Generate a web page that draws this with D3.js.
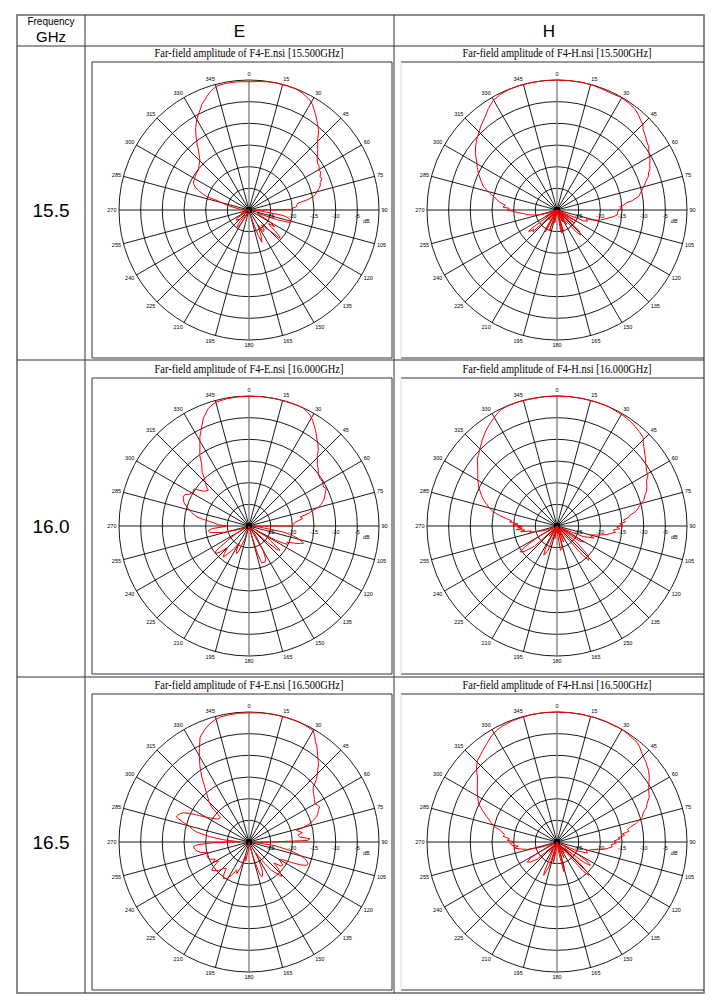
<!DOCTYPE html>
<html><head><meta charset="utf-8">
<script src="https://cdn.jsdelivr.net/npm/d3@7"></script>
<style>html,body{margin:0;padding:0;background:#fff}</style>
</head><body>
<svg id="c" width="721" height="1008"></svg>
<script>
// ---------- data ----------
const freqLabels = ["15.5", "16.0", "16.5"];
const freqTitles = ["15.500", "16.000", "16.500"];
const planes = ["E", "H"];
const angleTicks = d3.range(0, 360, 15);
const ringTicks = [-25, -20, -15, -10, -5];
const dbDomain = [-30, 0];

// [angle deg (clockwise from top), amplitude dB]
const e155 = [[0,-0.4],[4,-0.3],[8,-0.1],[12,0],[16,0],[21,0],[25,-0.4],[29,-1],[31,-1.6],[33,-2.4],[35,-3.2],[38,-4.4],[41,-5.5],[43,-6.6],[45,-7.6],[47,-8.3],[49,-9],[51,-9.6],[53,-10.3],[56,-10.9],[58,-10.9],[60,-11.4],[62,-11.3],[65,-11.9],[67,-11.7],[69,-12.4],[71,-12.6],[73,-13.1],[75,-13.8],[77,-14.3],[78,-14.8],[80,-16.2],[82,-18.6],[84,-18.9],[86,-19],[88,-20.2],[89.5,-20.3],[90.5,-29],[96,-27],[99,-22],[102,-20.5],[104,-20.2],[106,-19.9],[107.5,-20.6],[109,-23],[111,-28],[116,-27],[119,-24.5],[121,-24],[123,-22.9],[125,-24.5],[127,-23.8],[129,-22],[131,-20.6],[132.5,-20.3],[134,-22.5],[137,-24.5],[140,-25.5],[143,-24.2],[146.5,-24],[149,-26],[152,-25.2],[155,-23.5],[158,-22],[160,-23.5],[162,-27],[166,-29.5],[175,-30],[195,-30],[205,-28.5],[210,-26.5],[214,-25.2],[217,-25.5],[220,-28.5],[226,-27],[231,-26.2],[235,-26.5],[238,-29],[245,-28],[252,-29.5],[262,-30],[272,-29],[277,-27.5],[281,-25.5],[284,-24],[286,-23],[287.5,-19.8],[289,-18.8],[290.5,-17.9],[291.5,-17.4],[293,-16.5],[295.6,-15.8],[298,-15.6],[301.7,-15.4],[305,-15.2],[308.3,-15.1],[312,-14.5],[315.6,-13.8],[318,-12.8],[319.8,-11.9],[321.5,-10.8],[323.2,-9.8],[325,-8.6],[327,-7.4],[329.8,-6],[332,-5.1],[333.9,-4.3],[336,-3.3],[339.5,-2.1],[341.5,-1.4],[343.7,-0.8],[346,-0.4],[350,-0.3],[355,-0.3],[360,-0.4]];

const h155 = [[0,0],[5,0],[10,0],[15,0],[20,-0.2],[25,-0.3],[30,-0.1],[34,-0.3],[38,-0.6],[41,-1.2],[43,-1.7],[45,-2],[47,-2.8],[50,-3.4],[53,-4],[55.5,-4.3],[58,-5],[61.6,-5.6],[64,-6.2],[66,-6.5],[68,-7.2],[70,-7.6],[72,-8.4],[75,-9.3],[78,-10.2],[80.7,-10.9],[82,-12],[83,-12.5],[84,-13.8],[85.7,-14.6],[87,-15.5],[88,-15],[90,-15.8],[92,-16],[94.8,-16.1],[97,-17],[100,-18.5],[103,-19.7],[105,-21],[107,-23],[110,-22.5],[112,-23.3],[114,-28],[117,-30],[120,-24.7],[123,-29],[127,-25],[130,-29],[133,-23],[137,-22.1],[139,-23.5],[141,-29],[146,-26],[149,-30],[155,-27],[158,-30],[163,-24.8],[166,-28],[168,-24.5],[170,-25],[172,-30],[180,-30],[190,-27],[193,-30],[200,-25],[204,-29],[208,-24.3],[211,-24.8],[214,-30],[220,-27],[224,-29.5],[228,-22.5],[230,-23],[232.6,-21.8],[234,-22.5],[236,-29],[241,-27],[245,-30],[250,-28],[255,-25.5],[258,-24.5],[261,-23],[264,-22.3],[266,-21],[268,-20],[270,-18.5],[272,-19],[273,-17.5],[275.5,-18],[277,-17],[279,-16.2],[281.9,-15.1],[284,-14],[287.6,-12.2],[291,-11.2],[295,-10],[298,-9.2],[301.8,-8.1],[305,-7],[307.8,-6.2],[311,-5.4],[314.4,-4.7],[318,-3.8],[322.5,-2.8],[326,-1.7],[330,-0.7],[334,-0.3],[338,-0.1],[342,0],[345.3,0],[350,0],[355,0],[360,0]];

const e160 = [[0,-0.1],[5,0],[10,0],[13.7,0],[19.4,0],[24.5,0],[27,-0.4],[28.9,-0.8],[31,-1.5],[33,-2.4],[35,-3.2],[37.2,-4.2],[40,-5.3],[42.5,-6.3],[44,-7.3],[46.1,-8.1],[48,-8.8],[50,-9.2],[53,-9.9],[56,-10.3],[59,-10.2],[62.3,-10.6],[64,-10.2],[67,-10.9],[69,-11.3],[71,-11.8],[73,-12.5],[75,-13.5],[76.3,-14.7],[78,-15.9],[80,-18],[82,-17.5],[84,-18.6],[86,-19.5],[88,-19.8],[90,-20],[91,-29],[97,-27],[100,-22],[102,-20],[104,-18.5],[107.4,-16.8],[109,-17.5],[111,-19],[113,-20.5],[116,-20.3],[118,-23],[120,-28],[122,-25],[124,-24.1],[126,-23],[128,-20.9],[130,-21.5],[132,-25],[136,-29.5],[145,-27],[150,-23.5],[153,-21.5],[156,-20.9],[159,-21],[161,-21],[163,-23.5],[166,-29],[175,-30],[190,-30],[198,-27],[202,-24],[204,-23],[207,-23.5],[210,-25.5],[213,-24],[216,-22.6],[218,-21.5],[219.6,-20.7],[222,-21.5],[225,-23],[228,-21],[230.9,-19.9],[233,-20.5],[236,-24],[240,-27],[246,-29],[252,-27],[256,-24],[259,-22],[261,-20.8],[263.9,-20.6],[266,-21.5],[268,-24],[270,-25],[272,-23],[275,-22],[277,-20.5],[279.8,-17.8],[283,-16.5],[287,-15],[290,-14],[293.8,-13.4],[296,-13.5],[298,-14.4],[301.4,-14.9],[304,-14.7],[306,-16],[308,-17],[311.3,-17.5],[313,-16.5],[316,-15.4],[319,-13.5],[322.8,-11.9],[325,-10.2],[328.2,-8.5],[331,-6.6],[334.4,-4.7],[337,-3],[340.9,-1.3],[343,-0.8],[345.4,-0.4],[350,-0.2],[355,-0.1],[360,-0.1]];

const h160 = [[0,0],[5,0],[10,0],[14.5,0],[19,0],[23.3,0],[27,-0.2],[31,-0.3],[34.8,-0.5],[38,-0.8],[41,-1.1],[44.2,-1.5],[46,-2.3],[48,-3],[50.7,-3.8],[53,-4.4],[55,-5],[58.3,-5.7],[61,-6],[63,-6.8],[66.6,-7.4],[69,-7.9],[71,-8.6],[73.5,-9.1],[76,-10.3],[78.9,-11.2],[80,-11.8],[81.5,-13],[83,-13.3],[85,-14.6],[86.5,-14.2],[88,-15.5],[89,-14.8],[91,-16.2],[92.5,-15.5],[94,-17],[96,-16.4],[98.2,-17.6],[100,-18.5],[102,-20],[104,-21.5],[106,-22],[108,-21],[110,-22.5],[112,-23.5],[115,-29],[118,-26],[121,-22.8],[124,-24],[127,-29],[130,-24],[133,-20.5],[135,-19.6],[137.3,-19.2],[139,-22],[141,-28],[146,-30],[150,-26.5],[153,-29],[158,-26],[161,-30],[166,-25],[169,-24.5],[172,-24.3],[175,-28],[182,-30],[190,-27],[194,-30],[200,-24],[204.4,-22.6],[207,-24],[211,-29],[218,-27],[222,-30],[228,-23],[232,-20.5],[234.7,-19.6],[237,-21],[240,-25],[244,-29],[250,-27],[254,-25.5],[257,-23.5],[259,-24],[261,-21.5],[263,-22.5],[265,-20.5],[266.5,-22],[268.6,-20.8],[270,-22],[271.5,-19.8],[273,-21],[275,-19],[276.5,-19.5],[278.3,-18.3],[280,-16.8],[282.5,-15],[285,-13.8],[289.3,-12.1],[292,-11.2],[296.5,-9.8],[300,-8.9],[303,-8.2],[306.6,-7.2],[310,-6],[312,-5.6],[315.9,-4.6],[319,-3.7],[322.7,-2.7],[326,-1.9],[329.5,-1.2],[332,-0.6],[334.5,-0.2],[338,0],[342,0],[345.2,0],[350,-0.1],[355,0],[360,0]];

const e165 = [[0,-0.2],[5,-0.1],[10,0],[14.9,0],[19,0],[23.4,0],[27,-0.2],[30,-0.3],[32,-1.4],[33.5,-2.2],[35.5,-3],[38,-4.3],[41.5,-5.8],[44,-7.2],[46.2,-8.3],[48,-9.4],[49.5,-10.5],[51.5,-11.1],[54,-11.5],[57,-12],[59.8,-12.4],[62,-12],[63.5,-11.8],[65.5,-12.4],[67.5,-12.8],[69.7,-13.4],[71.5,-14.5],[73.3,-15.3],[75,-17],[76.2,-18.7],[78,-18.2],[80,-17.5],[82,-18.6],[84.4,-18.2],[86.9,-15.9],[88.5,-16.5],[90,-25],[93,-29],[98,-24],[102,-20],[105,-17.5],[108,-16],[110,-15.5],[112,-15.6],[114,-17],[116,-19.5],[118,-21.5],[121,-21.8],[124,-20.5],[127,-20.8],[130,-22.5],[133,-20.5],[136.4,-19],[139,-20.5],[141.3,-21.6],[144,-24],[148,-27],[152,-25],[155,-22.8],[158,-21.6],[160,-21.4],[162,-22.5],[164,-26],[168,-29.5],[175,-30],[185,-28],[190,-25.5],[194,-27],[198,-24],[201,-22.2],[204,-23],[207,-21.5],[211,-20.2],[215,-19.7],[218,-20.6],[221,-22],[224,-21.5],[227,-20.3],[230,-19.7],[232.8,-19.2],[235,-19.9],[238,-21.7],[241,-20.5],[243,-21.3],[246,-20.2],[249,-19.8],[252.5,-19.8],[255,-20.3],[258,-18.5],[261,-17.6],[264.9,-17.1],[267,-18],[269,-22],[271,-28],[275,-24],[278,-20.5],[281,-17.5],[283,-16.5],[285,-15.6],[287,-13.8],[289,-12.3],[291,-12.5],[292.3,-12.8],[294,-13.4],[296,-15],[298,-17],[300,-18.5],[303,-20],[306,-21],[309,-21.3],[311,-21.2],[313,-18.2],[315,-17],[318.8,-15.2],[321,-13.8],[324,-11.5],[327,-9.2],[329.7,-7.3],[332,-5.6],[335,-3.3],[338,-2.3],[341,-1.4],[344,-0.8],[347,-0.4],[351,-0.3],[355,-0.2],[360,-0.2]];

const h165 = [[0,0],[5,0],[10,0],[14.4,0],[18,0],[21.8,0],[26,-0.1],[29.8,0],[33,-0.2],[36,-0.4],[38.7,-0.5],[41,-0.9],[43,-1.5],[45.6,-2],[48,-2.4],[50,-2.8],[52,-3.2],[55,-4],[57,-4.7],[59,-5.3],[62,-6],[64,-6.3],[66.9,-7.4],[69,-7.9],[71,-8.9],[73.6,-9.5],[75.5,-10.6],[77,-11.4],[78.4,-12.7],[80,-13.5],[81.5,-13.2],[83,-14.8],[84.5,-14.3],[86,-15.9],[87,-15.4],[89,-16.8],[91,-16.3],[93,-17.5],[95,-17.2],[97.6,-18.4],[100,-20],[103,-22],[107,-23],[110,-22.5],[114,-25],[118,-29],[121,-24],[123,-21.5],[125,-20.6],[127,-22],[130,-28],[133,-23],[135,-20],[136.5,-19.4],[138,-21],[141,-29],[146,-27],[150,-30],[156,-26],[160,-29],[164,-24],[167,-23],[170,-27],[175,-30],[185,-28],[190,-25],[194,-29],[198,-24],[201.8,-21.7],[203,-22.5],[206,-28],[212,-30],[218,-27],[224,-29],[229,-24],[233,-22.3],[236,-21.7],[239,-23],[242,-27],[247,-29],[252,-26],[256,-23],[259,-21.5],[262,-20],[264,-21],[266,-19.5],[268,-19.2],[270,-20.2],[272,-18.5],[274,-19],[276,-17.5],[278,-17.8],[281.6,-16.6],[284,-15],[286,-14.3],[289.7,-12.8],[293,-11.3],[296,-9.9],[300,-8.8],[304,-7.8],[307.9,-6.8],[311,-5.5],[313,-4.6],[315.8,-3.7],[319,-3.2],[321,-2.8],[324.6,-2.1],[328,-1.3],[331.7,-0.7],[335,-0.4],[340,-0.2],[345,-0.1],[350,0],[355,0],[360,0]];

const patterns = [[e155, h155], [e160, h160], [e165, h165]];

// ---------- layout ----------
const svg = d3.select("#c");
const tbl = {left: 17, right: 704, top: 15, bottom: 993};
const colX = [85, 394];
const rowY = [46, 360, 677];
const centersY = [210, 526, 842];
const centersX = [249, 557];
const boxX = [[92, 392], [401, 704]];
const R = 130;
const rScale = d3.scaleLinear().domain(dbDomain).range([0, R]).clamp(true);

// table
const g0 = svg.append("g").attr("fill", "none");
g0.append("rect").attr("x", tbl.left).attr("y", tbl.top).attr("width", tbl.right - tbl.left).attr("height", tbl.bottom - tbl.top)
  .attr("stroke", "#6e6e6e").attr("stroke-width", 1.6);
colX.forEach(x => g0.append("line").attr("x1", x).attr("x2", x).attr("y1", tbl.top).attr("y2", tbl.bottom).attr("stroke", "#333").attr("stroke-width", 1));
rowY.forEach(y => g0.append("line").attr("x1", tbl.left).attr("x2", tbl.right).attr("y1", y).attr("y2", y).attr("stroke", "#333").attr("stroke-width", 1));

// header
svg.append("text").attr("x", 51).attr("y", 25).attr("text-anchor", "middle").attr("font-family", "Liberation Sans, Arial").attr("font-size", 10).text("Frequency");
svg.append("text").attr("x", 51).attr("y", 42).attr("text-anchor", "middle").attr("font-family", "Liberation Sans, Arial").attr("font-size", 15).text("GHz");
planes.forEach((p, i) => {
  const cx = (i === 0) ? (colX[0] + colX[1]) / 2 : (colX[1] + tbl.right) / 2;
  svg.append("text").attr("x", cx).attr("y", 37).attr("text-anchor", "middle").attr("font-family", "Liberation Sans, Arial").attr("font-size", 17).text(p);
});

freqLabels.forEach((f, ri) => {
  svg.append("text").attr("x", 51).attr("y", centersY[ri] + 7).attr("text-anchor", "middle")
    .attr("font-family", "Liberation Sans, Arial").attr("font-size", 19).text(f);
});

const radial = d3.lineRadial().angle(d => d[0] * Math.PI / 180).radius(d => rScale(d[1])).curve(d3.curveLinear);

freqTitles.forEach((ft, ri) => {
  planes.forEach((p, ci) => {
    const cx = centersX[ci], cy = centersY[ri];
    // title
    svg.append("text").attr("x", cx).attr("y", cy - 153).attr("text-anchor", "middle")
      .attr("font-family", "Liberation Serif, Times New Roman").attr("font-size", 13)
      .attr("textLength", 189).attr("lengthAdjust", "spacingAndGlyphs")
      .text(`Far-field amplitude of F4-${p}.nsi [${ft}GHz]`);
    // box
    const bx = boxX[ci];
    const by0 = cy - 148, by1 = cy + 148;
    const gb = svg.append("g").attr("fill", "none");
    gb.append("line").attr("x1", bx[0]).attr("x2", bx[1]).attr("y1", by0).attr("y2", by0).attr("stroke", "#333");
    gb.append("line").attr("x1", bx[0]).attr("x2", bx[1]).attr("y1", by1).attr("y2", by1).attr("stroke", "#333");
    gb.append("line").attr("x1", bx[0]).attr("x2", bx[0]).attr("y1", by0).attr("y2", by1).attr("stroke", ci === 0 ? "#333" : "#ddd");
    if (ci === 0) gb.append("line").attr("x1", bx[1]).attr("x2", bx[1]).attr("y1", by0).attr("y2", by1).attr("stroke", "#333");

    const g = svg.append("g").attr("transform", `translate(${cx},${cy})`);
    // rings
    const ringVals = ringTicks.concat([0]);
    g.selectAll("circle.ring").data(ringVals).join("circle").attr("class", "ring")
      .attr("r", d => rScale(d)).attr("fill", "none").attr("stroke", "#000").attr("stroke-width", 0.9);
    // spokes
    g.selectAll("line.spoke").data(angleTicks).join("line").attr("class", "spoke")
      .attr("x1", 0).attr("y1", 0)
      .attr("x2", d => R * Math.sin(d * Math.PI / 180))
      .attr("y2", d => -R * Math.cos(d * Math.PI / 180))
      .attr("stroke", d => (d % 180 === 0) ? "#7a7a7a" : "#000")
      .attr("stroke-width", d => (d % 180 === 0) ? 1.3 : 0.9);
    g.append("circle").attr("r", 3).attr("fill", "#000");
    // angle labels
    g.selectAll("text.ang").data(angleTicks).join("text").attr("class", "ang")
      .attr("x", d => (R + 2.5) * Math.sin(d * Math.PI / 180))
      .attr("y", d => -(R + 2.5) * Math.cos(d * Math.PI / 180))
      .attr("dy", d => (0.35 - 0.55 * Math.cos(d * Math.PI / 180)) + "em")
      .attr("text-anchor", d => { const s = Math.sin(d * Math.PI / 180); return s > 0.1 ? "start" : (s < -0.1 ? "end" : "middle"); })
      .attr("font-family", "Liberation Sans, Arial").attr("font-size", 5.5).attr("fill", "#000")
      .text(d => d);
    // ring labels
    g.selectAll("text.rl").data(ringTicks).join("text").attr("class", "rl")
      .attr("x", d => rScale(d)).attr("y", 7.5).attr("text-anchor", "middle")
      .attr("font-family", "Liberation Sans, Arial").attr("font-size", 5.5).text(d => d);
    g.append("text").attr("x", rScale(-5) + 9).attr("y", 13).attr("text-anchor", "middle")
      .attr("font-family", "Liberation Sans, Arial").attr("font-size", 5.5).text("dB");
    // trace
    g.append("path").datum(patterns[ri][ci]).attr("d", radial)
      .attr("fill", "none").attr("stroke", "#ff0000").attr("stroke-width", 1).attr("stroke-linejoin", "round");
  });
});
</script>
</body></html>
